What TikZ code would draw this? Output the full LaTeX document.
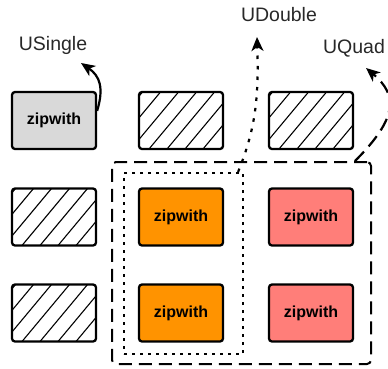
\documentclass[tikz,border=0pt]{standalone}
\usepackage{fontspec}
\setmainfont{Liberation Sans}
\usetikzlibrary{arrows.meta}
\definecolor{zwgray}{RGB}{217,217,217}
\definecolor{zworange}{RGB}{255,147,0}
\definecolor{zwred}{RGB}{255,126,121}
\definecolor{labelgray}{RGB}{40,40,40}
\tikzset{
  box/.style={draw=black, line width=2.3pt, rounded corners=3pt,
    minimum width=84pt, minimum height=57pt, inner sep=0pt,
    font=\fontsize{16}{18}\selectfont\bfseries},
  hatchbox/.style={box, path picture={
    \foreach \k in {-4,...,5}
      \draw[line width=1.1pt]
        ([xshift=\k*18pt-8pt]path picture bounding box.south west)
        -- ++(47.5pt,57pt);}},
  unitlabel/.style={font=\fontsize{19.5}{22}\selectfont, text=labelgray, inner sep=0pt},
  grouprect/.style={draw=black, line width=2pt, rounded corners=4pt,
    dash pattern=on 13pt off 7pt, inner sep=0pt},
  doublerect/.style={draw=black, line width=2.2pt,
    dash pattern=on 3pt off 5pt, inner sep=0pt},
  link/.style={line width=2.2pt, arrows={-Stealth[length=14pt,width=12pt,inset=4pt]}},
}
\begin{document}
\begin{tikzpicture}[x=1pt,y=-1pt]
  \useasboundingbox (0,0) rectangle (388,368);

  % grid of tiles
  \node[box, fill=zwgray] (a11) at (54,120.5) {zipwith};
  \node[hatchbox] (a12) at (181,120.5) {};
  \node[hatchbox] (a13) at (311,120.5) {};
  \node[hatchbox] (a21) at (54,217) {};
  \node[box, fill=zworange] (a22) at (181,217) {zipwith};
  \node[box, fill=zwred] (a23) at (311,217) {zipwith};
  \node[hatchbox] (a31) at (54,313) {};
  \node[box, fill=zworange] (a32) at (181,313) {zipwith};
  \node[box, fill=zwred] (a33) at (311,313) {zipwith};

  % unit groupings
  \node[grouprect, minimum width=259pt, minimum height=202pt] (quad) at (241.5,263) {};
  \node[doublerect, minimum width=119pt, minimum height=181pt] (double) at (183.5,263.5) {};

  % labels
  \node[unitlabel] (lsingle) at (53,45) {USingle};
  \node[unitlabel] (ldouble) at (279,15) {UDouble};
  \node[unitlabel] (lquad) at (354,48) {UQuad};

  \coordinate (tsingle) at (81,63);
  \coordinate (tdouble) at (257,37);
  \coordinate (tquad) at (366,68);

  % arrows to the labels
  \draw[link] ([yshift=-20pt]a11.north east) .. controls (104,88) and (100,76) .. (tsingle);
  \draw[link, dash pattern=on 3.5pt off 7pt]
    ([xshift=-6pt]double.north east) .. controls (255,130) and (259,100) .. (tdouble);
  \draw[link, dash pattern=on 13pt off 7pt]
    ([xshift=-17pt]quad.north east) .. controls (398,118) and (398,95) .. (tquad);
\end{tikzpicture}
\end{document}
